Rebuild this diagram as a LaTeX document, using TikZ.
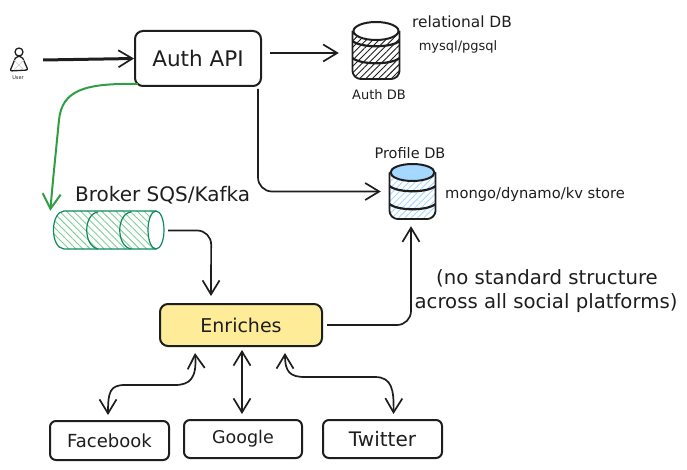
\documentclass[tikz,border=0pt]{standalone}
\usepackage{fontspec}
\setmainfont{DejaVu Sans}
\usetikzlibrary{arrows.meta,patterns.meta,positioning}
\definecolor{ink}{HTML}{1E1E1E}
\definecolor{grn}{HTML}{2F9E44}
\definecolor{teal}{HTML}{0C8A5E}
\definecolor{hgrn}{HTML}{7FCF95}
\definecolor{yel}{HTML}{FFEC99}
\definecolor{blu}{HTML}{A5D8FF}
\newcommand{\fsz}[1]{\fontsize{#1}{#1}\selectfont}
\tikzset{
  x=1pt,y=-1pt,
  box/.style={draw=ink,line width=2pt,rounded corners=8pt,fill=white,inner sep=0pt,text=ink},
  lbl/.style={text=ink,inner sep=0pt,align=center},
  small/.style={text=ink,inner sep=0pt},
  barb/.tip={Straight Barb[length=14pt,width=17pt,line width=1.7pt]},
  conn/.style={draw=ink,line width=1.7pt,rounded corners=14pt,-{barb}},
  both/.style={draw=ink,line width=1.7pt,{barb}-{barb}},
}
\newcommand{\stackdb}[7]{% cx, top, rx, ry, tier1, tier2, bottom ; uses \hatchc and \topc
  \fill[pattern={Lines[angle=45,distance=4.5pt,line width=0.9pt]},pattern color=\hatchc]
    (#1-#3,#2+#4) -- (#1-#3,#7-6) arc[start angle=180,end angle=360,x radius=#3,y radius=-6] -- (#1+#3,#2+#4) -- cycle;
  \draw[ink,line width=1.8pt,rounded corners=3pt] (#1-#3,#2+#4) -- (#1-#3,#7-6) -- (#1-#3+5,#7-1) -- (#1+#3-5,#7-1) -- (#1+#3,#7-6) -- (#1+#3,#2+#4);
  \draw[ink,line width=2.2pt] (#1-#3,#5-5) .. controls (#1-#3+8,#5+2) and (#1+#3-8,#5+2) .. (#1+#3,#5-5);
  \draw[ink,line width=2.2pt] (#1-#3,#6-5) .. controls (#1-#3+8,#6+2) and (#1+#3-8,#6+2) .. (#1+#3,#6-5);
  \draw[ink,line width=2pt,fill=\topc] (#1,#2+#4) ellipse[x radius=#3-1,y radius=#4];
}
\begin{document}
\begin{tikzpicture}
\useasboundingbox (0,0) rectangle (687,470);
% user
\node[inner sep=0pt,minimum width=20pt,minimum height=26pt] (user) at (18,60) {};
\draw[ink,line width=1.3pt] (19,52) circle[radius=4];
\draw[ink,line width=1.3pt,fill=white,rounded corners=2pt] (16,56.5) -- (22,56.5) -- (28,70) -- (10,71) -- cycle;
\draw[black!20,line width=.5pt] (14,60) -- (24,70) (24,60) -- (14,70);
\node[text=ink,inner sep=0pt,font=\fsz{5}] at (18,78) {User};
% main boxes
\node[box,minimum width=126pt,minimum height=55pt] (auth) at (198,58.5) {\fsz{21.5}Auth API};
\node[box,minimum width=162pt,minimum height=42pt,fill=yel] (enrich) at (241,325) {\fsz{19}Enriches};
\node[box,minimum width=119pt,minimum height=39pt,rounded corners=6pt] (fb) at (109.5,440.5) {\fsz{18}Facebook};
\node[box,minimum width=118pt,minimum height=38pt,rounded corners=6pt] (gg) at (243,439) {\fsz{17.5}Google};
\node[box,minimum width=119pt,minimum height=38pt,rounded corners=6pt] (tw) at (382.5,439) {\fsz{20}Twitter};
% databases
\node[inner sep=0pt,minimum width=48pt,minimum height=58pt] (authdb) at (376,51) {};
\def\hatchc{ink}\def\topc{white}
\stackdb{376}{22}{23.5}{9}{46}{63}{80}
\node[inner sep=0pt,minimum width=47pt,minimum height=57pt] (profdb) at (412.5,191.5) {};
\def\hatchc{blu}\def\topc{blu}
\stackdb{412.5}{164}{23}{8.5}{191}{209}{220}
% queue
\node[inner sep=0pt,minimum width=111pt,minimum height=39pt] (queue) at (108.5,230.5) {};
\fill[pattern={Lines[angle=-45,distance=5pt,line width=0.9pt]},pattern color=hgrn]
  (156,211) -- (64,211) .. controls (50,212) and (50,248) .. (64,249) -- (156,249) -- cycle;
\draw[teal,line width=1.2pt,fill=white] (156,230) ellipse[x radius=8,y radius=19];
\draw[teal,line width=1.2pt] (156,211) -- (64,211) .. controls (50,212) and (50,248) .. (64,249) -- (156,249);
\draw[teal,line width=1.2pt] (98,212) .. controls (83,214) and (83,246) .. (98,249);
\draw[teal,line width=1.2pt] (131,212) .. controls (116,214) and (116,246) .. (131,249);
% labels
\node[small,font=\fsz{13}] at (379,95) {Auth DB};
\node[small,font=\fsz{14.5}] at (410,153) {Profile DB};
\node[lbl,font=\fsz{15.4}] at (462,22) {relational DB};
\node[lbl,font=\fsz{13}] at (458,47) {mysql/pgsql};
\node[lbl,anchor=west,font=\fsz{14.7}] at (445,194) {mongo/dynamo/kv store};
\node[lbl,anchor=west,font=\fsz{20}] at (75,195) {Broker SQS/Kafka};
\node[lbl,font=\fsz{19.7}] at (547,278) {(no standard structure};
\node[lbl,font=\fsz{19.7}] at (546,303) {across all social platforms)};
% connectors
\draw[conn,line width=3pt] (user.east) ++(15,0) coordinate (ustart) -- (auth.west);
\draw[conn] ([xshift=8pt,yshift=5.5pt]auth.east) -- ([xshift=-13pt,yshift=-2pt]authdb.west);
\draw[conn] ([xshift=-4pt,yshift=-2pt]auth.south east) |- ([xshift=-8pt]profdb.west);
\draw[draw=grn,line width=2pt,-{Straight Barb[length=15pt,width=18pt,line width=2pt,color=grn]}]
  ([xshift=4pt,yshift=3pt]auth.south west) .. controls (85,83) and (62,90) .. (59,120) .. controls (55,160) and (52,190) .. ([xshift=-2.5pt]queue.north west);
\draw[conn] ([xshift=4pt]queue.east) -- ++(43,0) -- ([xshift=-30pt,yshift=7pt]enrich.north);
\draw[conn] ([xshift=4pt]enrich.east) -| ([xshift=-1.5pt,yshift=-6pt]profdb.south);
\draw[both] ([xshift=-46pt,yshift=-6pt]enrich.south) .. controls (197,378) and (190,385) .. (175,385) -- (125,385) .. controls (110,385) and (108,392) .. ([xshift=-1.5pt,yshift=5pt]fb.north);
\draw[both] ([xshift=1pt,yshift=-3pt]enrich.south) -- ([xshift=-1pt,yshift=5pt]gg.north);
\draw[both] ([xshift=44pt,yshift=-6pt]enrich.south) .. controls (285,372) and (290,377) .. (305,377) -- (375,377) .. controls (392,377) and (394,390) .. ([xshift=11pt,yshift=5pt]tw.north);
\end{tikzpicture}
\end{document}
